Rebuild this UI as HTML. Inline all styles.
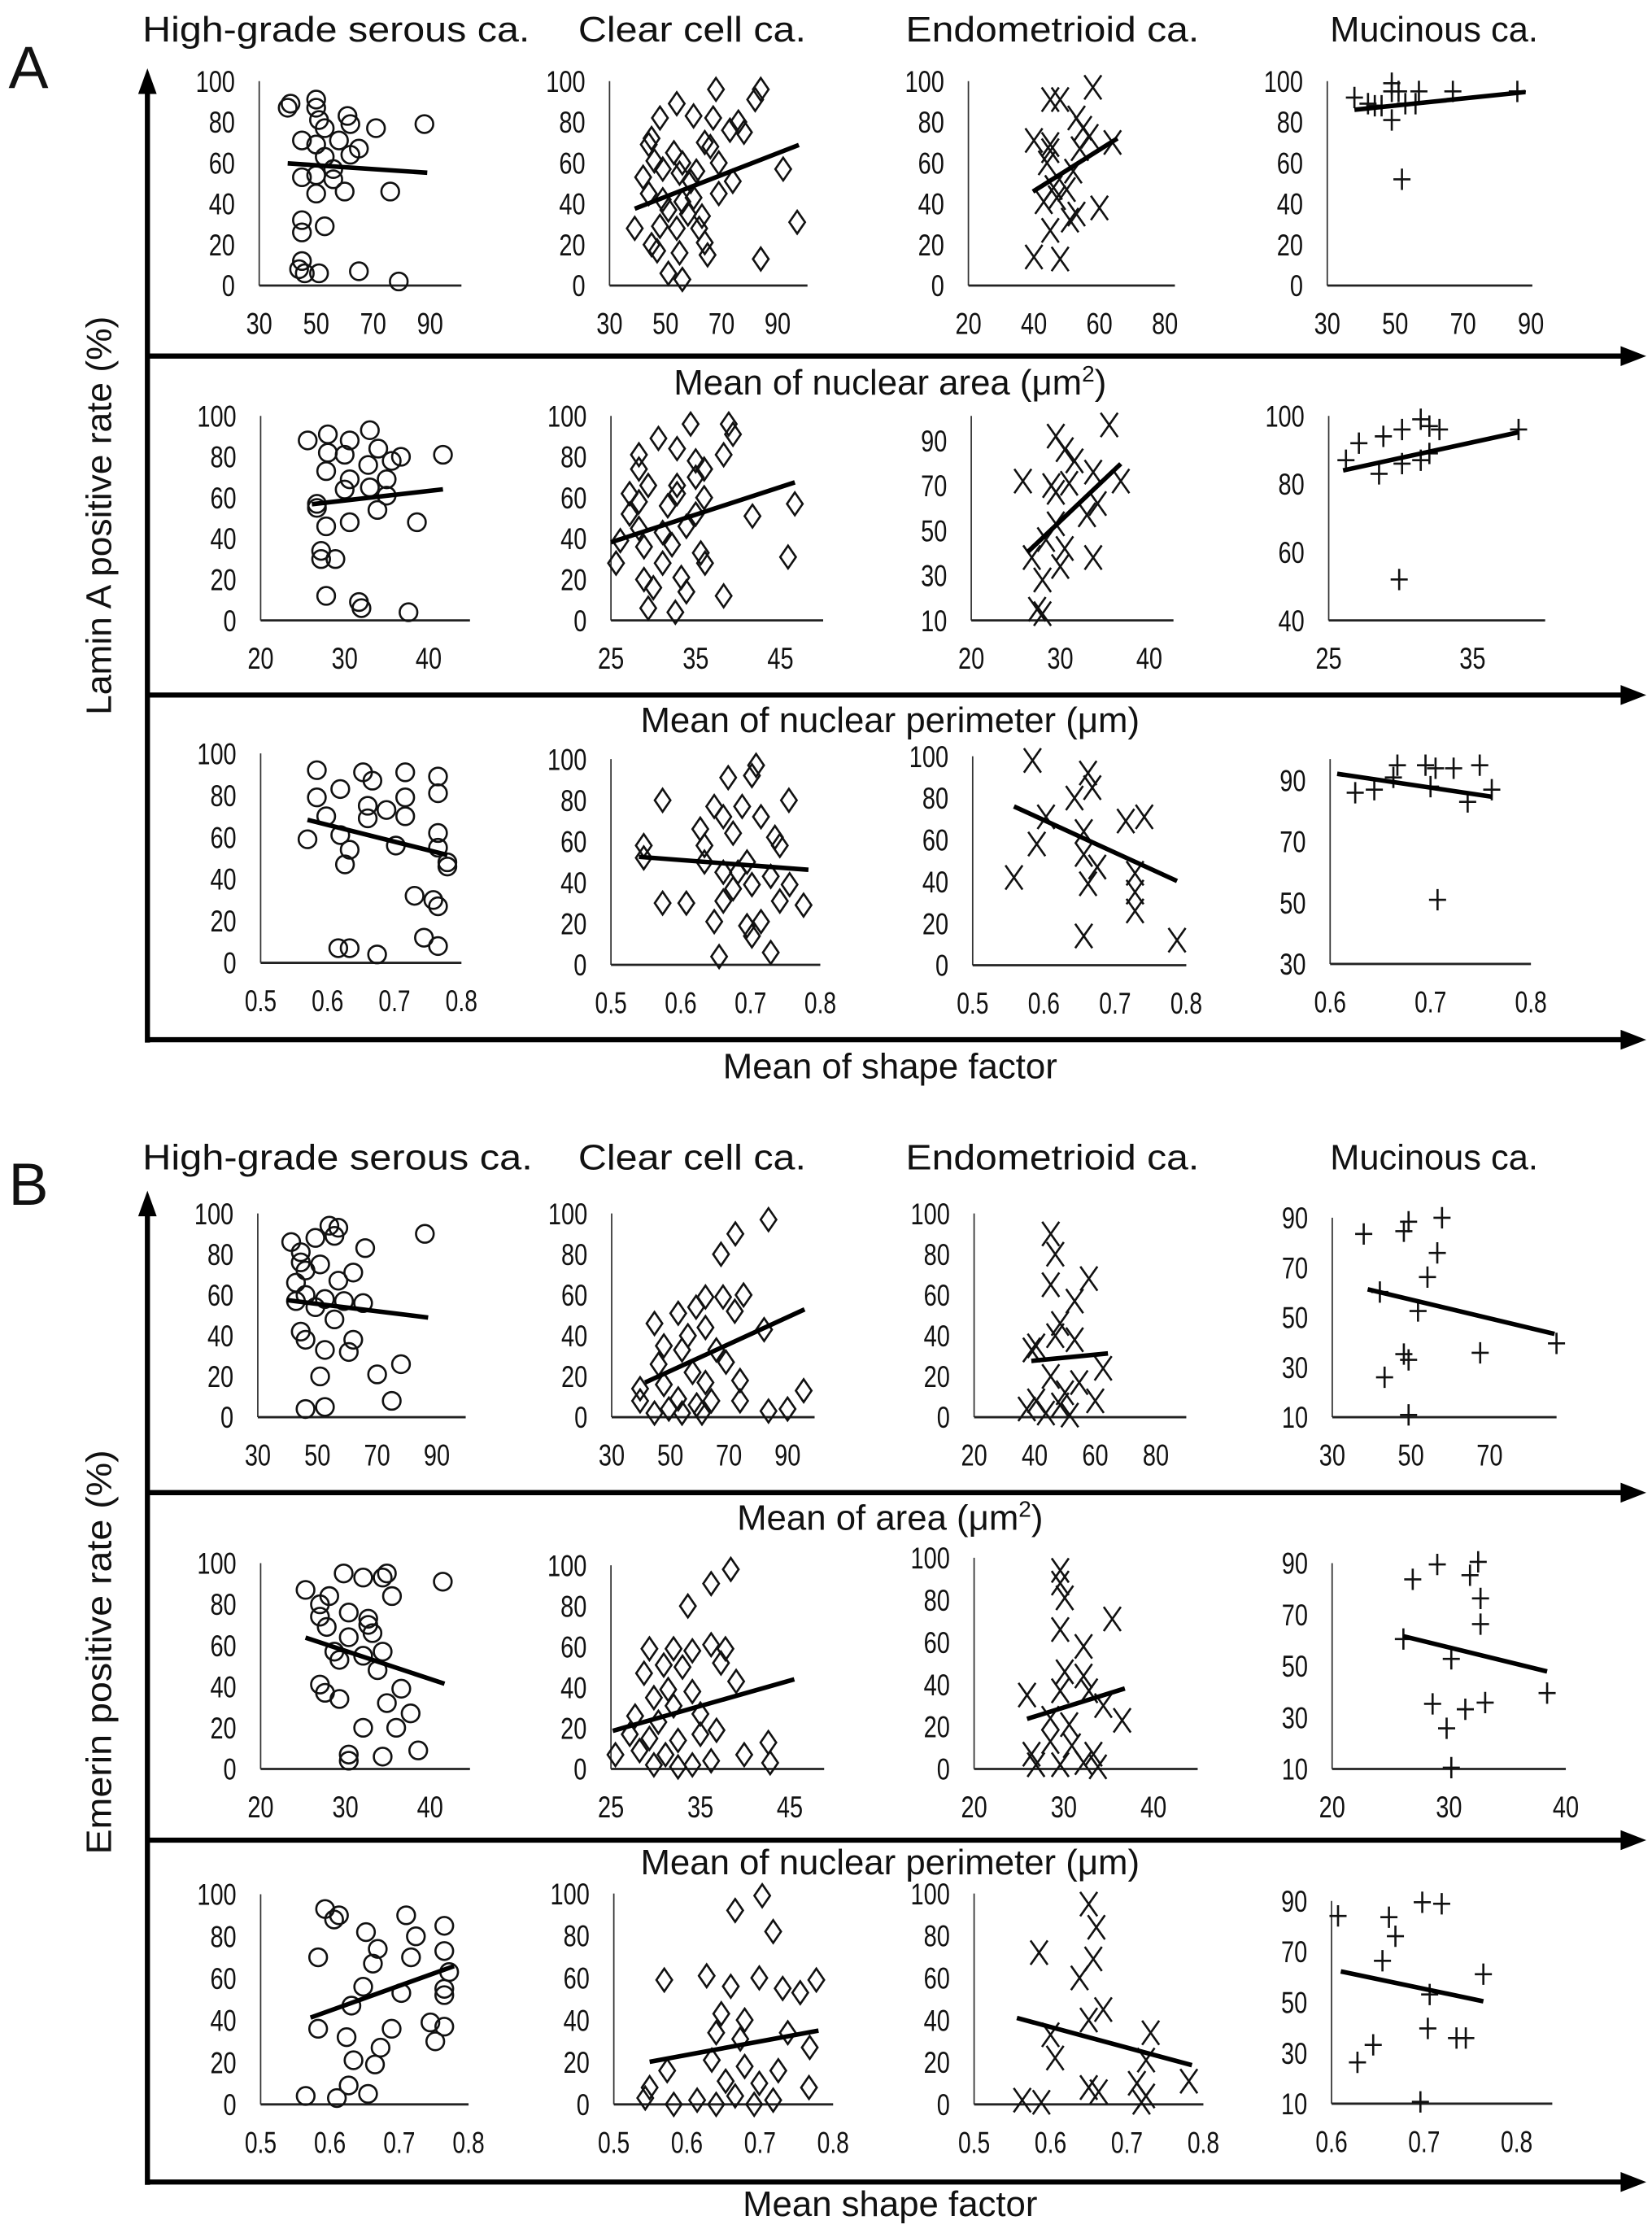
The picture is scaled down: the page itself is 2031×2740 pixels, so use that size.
<!DOCTYPE html>
<html><head><meta charset="utf-8">
<style>
html,body{margin:0;padding:0;background:#fff;}
svg{display:block;}
text{font-family:"Liberation Sans",sans-serif;fill:#111;}
.tk{font-family:"Liberation Sans Narrow","Liberation Sans",sans-serif;font-size:21px;}
.ttl{font-size:25px;}
.axl{font-size:25px;}
</style></head>
<body>
<svg id="fig" xmlns="http://www.w3.org/2000/svg" width="2031" height="2740" viewBox="0 0 1160 1565">
<rect x="0" y="0" width="1160" height="1565" fill="#fff"/>
<text x="6" y="62" font-size="42">A</text>
<text x="6" y="846" font-size="42">B</text>
<g>
<text class="ttl" x="100" y="29" textLength="272" lengthAdjust="spacingAndGlyphs">High-grade serous ca.</text>
<text class="ttl" x="406" y="29" textLength="160" lengthAdjust="spacingAndGlyphs">Clear cell ca.</text>
<text class="ttl" x="636" y="29" textLength="206" lengthAdjust="spacingAndGlyphs">Endometrioid ca.</text>
<text class="ttl" x="934" y="29" textLength="146" lengthAdjust="spacingAndGlyphs">Mucinous ca.</text>
</g>
<g>
<text class="ttl" x="100" y="821" textLength="274" lengthAdjust="spacingAndGlyphs">High-grade serous ca.</text>
<text class="ttl" x="406" y="821" textLength="160" lengthAdjust="spacingAndGlyphs">Clear cell ca.</text>
<text class="ttl" x="636" y="821" textLength="206" lengthAdjust="spacingAndGlyphs">Endometrioid ca.</text>
<text class="ttl" x="934" y="821" textLength="146" lengthAdjust="spacingAndGlyphs">Mucinous ca.</text>
</g>
<text class="axl" transform="translate(78,362) rotate(-90)" text-anchor="middle" textLength="280" lengthAdjust="spacingAndGlyphs">Lamin A positive rate (%)</text>
<text class="axl" transform="translate(78,1160) rotate(-90)" text-anchor="middle" textLength="284" lengthAdjust="spacingAndGlyphs">Emerin positive rate (%)</text>
<text class="axl" x="625" y="277" text-anchor="middle">Mean of nuclear area (μm<tspan font-size="16" dy="-9">2</tspan><tspan dy="9">)</tspan></text>
<text class="axl" x="625" y="514" text-anchor="middle">Mean of nuclear perimeter (μm)</text>
<text class="axl" x="625" y="757" text-anchor="middle">Mean of shape factor</text>
<text class="axl" x="625" y="1074" text-anchor="middle">Mean of area (μm<tspan font-size="16" dy="-9">2</tspan><tspan dy="9">)</tspan></text>
<text class="axl" x="625" y="1316" text-anchor="middle">Mean of nuclear perimeter (μm)</text>
<text class="axl" x="625" y="1556" text-anchor="middle">Mean shape factor</text>
<g id="arrows"></g>
<g id="panels"></g>
</svg>
<script>
// ---------- DATA ----------
const a1c1X=[40,41,50,50,51,53,61,62,71,88,45,50,58,65,53,62,56,45,50,56,50,60,76,45,53,45,45,46,51,65,79,44];
const a1c1Y=[87,89,91,87,81,77,83,79,77,79,71,69,71,67,63,64,57,53,54,52,45,46,46,32,29,26,12,6,6,7,2,8];
const a1c1T=[40,89,59.8,55.2];
const a1c2X=[68,84,82,54,60,67,48,76,73,78,45,44,64,66,53,46,56,69,49,55,61,92,42,74,59,44,69,49,56,60,51,58,63,39,48,54,62,45,47,55,65,84,97,51,56,64];
const a1c2Y=[96,96,91,89,83,82,82,80,76,75,72,69,70,68,65,61,60,60,57,55,56,57,53,51,51,45,45,42,41,43,37,35,34,28,29,28,28,20,17,16,15,13,31,6,3,21];
const a1c2T=[39,97.6,37.6,68.8];
const a1c3X=[58,45,48,53,55,57,64,40,45,45,54,44,52,46,50,43,47,60,53,51,45,40,48];
const a1c3Y=[97,91,91,82,77,73,70,71,69,66,67,60,56,48,47,41,43,38,35,32,27,14,13];
const a1c3T=[39.7,65.5,46,72];
const a1c4X=[38,42,44,49,49,51,53,57,56,67,86,49,52,46];
const a1c4Y=[92,89,88,99,95,95,89,95,89,95,95,81,52,88];
const a1c4T=[38,88.4,86,94.7];

const a2c1X=[25.6,28,30.6,33,28,30,34,36.7,27.8,32.8,35.6,30.6,35,30,33,35,26.7,33.9,27.8,30.6,38.6,27.2,28.9,27.2,27.8,31.7,32,37.6,41.7,26.7];
const a2c1Y=[88,91,88,93,82,81,84,80,73,76,78,69,69,64,65,61,55,54,46,48,48,34,30,30,12,9,6,4,81,57];
const a2c1T=[26.1,41.7,56.8,64.1];
const a2c2X=[34.4,38.9,39.4,30.6,32.8,28.3,38.3,35,28.3,36,35,29.4,32.8,27.2,32.8,36,28.3,27.2,31.7,35,41.7,46.7,28.3,31.1,33.9,26.1,28.9,32.2,35.6,36.1,25.6,31.1,28.9,30,33.3,33.9,38.3,45.9,29.4,32.6];
const a2c2Y=[96,96,91,89,84,81,81,78,74,74,70,66,66,62,62,60,58,52,56,52,51,57,45,43,46,39,36,37,33,28,28,28,20,16,21,14,12,31,6,4];
const a2c2T=[25,46.7,38.2,67.5];
const a2c3X=[35.5,29.5,30.5,31.6,33.7,25.8,36.8,29,31,29.5,34.2,33,29.5,28.4,30.5,26.8,33.7,30,28,27.4,28];
const a2c3Y=[97,92,86,81,76,72,72,70,71,67,62,57,53,46,42,38,38,34,28,15,13];
const a2c3T=[26.3,36.8,40.3,79.7];
const a2c4X=[26.2,27.1,28.8,30.1,31.4,32,32.7,38.2,28.5,30.1,31.4,32,29.9];
const a2c4Y=[87,92,94,96,99,97,96,96,83,86,87,89,52];
const a2c4T=[26,38.2,84,95.2];

const a3c1X=[.584,.584,.619,.653,.667,.716,.765,.765,.716,.598,.66,.66,.688,.716,.57,.619,.633,.702,.765,.765,.626,.779,.779,.73,.758,.765,.744,.765,.616,.633,.674];
const a3c1Y=[92,79,83,91,87,91,89,81,79,70,75,69,73,70,59,61,54,56,62,55,47,48,46,32,30,27,12,8,7,7,4];
const a3c1T=[.57,.779,68.3,51.5];
const a3c2X=[.708,.702,.668,.574,.755,.648,.688,.661,.715,.628,.675,.735,.547,.634,.742,.547,.634,.695,.682,.661,.729,.756,.702,.574,.608,.675,.661,.776,.742,.648,.695,.702,.729,.655,.715];
const a3c2Y=[97,92,91,80,80,77,77,72,72,66,64,62,58,58,58,52,50,50,45,45,43,39,39,30,30,37,31,29,31,21,19,14,6,4,21];
const a3c2T=[.54,.783,52.5,46.2];
const a3c3X=[.584,.662,.668,.643,.603,.715,.741,.656,.59,.656,.728,.558,.662,.728,.728,.656,.787,.675];
const a3c3Y=[98,92,85,80,71,69,71,64,58,53,44,42,39,35,26,14,12,47];
const a3c3T=[.558,.787,76,40.3];
const a3c4X=[.625,.644,.663,.667,.695,.705,.723,.749,.7,.737,.761,.707];
const a3c4Y=[86,87,91,95,95,94,94,95,88,83,87,51];
const a3c4T=[.607,.761,92.2,84.7];

const b1c1X=[41.2,44.4,49.3,54,57,55.7,66,86,44.4,50.9,46,62,57,42.8,46,52.5,58.9,65.3,42.8,49.3,55.7,44.4,46,62,52.5,60.5,50.9,70,78,74.9,46,52.5];
const b1c1Y=[86,81,88,94,93,89,83,90,76,75,72,71,67,66,60,58,57,56,57,54,48,42,38,38,33,32,20,21,26,8,4,5];
const b1c1T=[39.6,87.1,57.5,48.9];
const b1c2X=[83.5,72.2,67.3,44.6,52.7,58.8,62,68,75,72,56,62,47.8,54,69,46,39.7,47.8,62,73.8,52.7,59,39.7,49.5,60.8,73.8,83.5,90,95.5,82,54,44.6,64,57.6,65.7];
const b1c2Y=[97,90,80,46,51,54,59,59,60,52,40,44,35,33,27,26,14,16,17,18,9,6,8,4,2,8,3,4,13,43,2,2,8,22,33];
const b1c2T=[41.4,95.8,17,52.9];
const b1c3X=[45.3,46.8,45.3,57.9,53.2,40.5,48.4,53.2,46.8,39,62.6,45.3,54.7,40.5,48.4,60,43.7,51.6,50,37.4];
const b1c3Y=[90,80,65,68,57,35,46,38,40,33,24,20,17,8,6,8,2,1,12,4];
const b1c3T=[38.9,64.2,27.6,31.3];
const b1c4X=[38,48.2,49.4,57.9,56.7,54.2,42.1,51.8,48.2,49.4,43.3,67.6,87,49.4];
const b1c4Y=[83.5,84.6,88.4,90,75.9,66.2,60.2,52.6,35.3,33,26,35.8,39.6,10.9];
const b1c4T=[39,86.5,61.3,43.4];

const b2c1X=[25.3,28.1,29.8,32.1,34.4,34.9,35.5,41.5,27,27,30.4,32.7,27.8,32.7,30.4,33.2,28.7,34.4,29.3,32.1,33.8,27,27.6,29.3,36.6,34.9,37.7,36,32.1,30.4,30.4,34.4,38.6];
const b2c1Y=[87,84,95,93,93,95,84,91,80,74,76,73,69,70,64,66,57,57,53,55,48,41,37,34,39,32,27,20,20,7,4,6,9];
const b2c1T=[25.3,41.7,63.8,41.4];
const b2c2X=[38.4,36.2,33.6,29.3,32,34.1,36.2,37.8,30.9,33,37.3,28.7,39,31.4,34.1,29.8,32,27.7,35,30.3,36.8,27.1,29.3,32.5,28.2,25.5,31.1,39.9,42.6,42.8,36.2,34.1,29.8,32.5,35];
const b2c2Y=[98,91,80,59,59,58,61,59,51,50,52,47,43,39,38,35,31,26,27,23,19,17,15,14,9,7,7,7,13,3,4,2,2,1,17];
const b2c2T=[25.2,45.5,18.7,44];
const b2c3X=[29.6,29.6,30.1,35.4,29.6,32.2,30.1,32.2,25.9,29.6,32.8,34.4,36.5,28.5,30.6,28.5,30.9,26.4,33.3,26.9,29.6,32.2,33.8];
const b2c3Y=[94,88,81,71,66,58,46,44,35,37,37,30,23,24,21,13,11,7,7,2,2,3,1];
const b2c3T=[25.9,36.8,23.7,38.1];
const b2c4X=[26.9,29,31.8,32.5,32.7,32.7,26.1,30.2,28.6,31.4,33.1,29.8,38.4,30.2];
const b2c4Y=[83.7,89.5,85.3,90.5,76.3,66.3,60.5,52.8,35.3,33.2,35.8,25.8,39.5,10.5];
const b2c4T=[26.1,38.4,61.6,47.9];

const b3c1X=[.593,.613,.606,.652,.71,.724,.765,.583,.669,.662,.717,.765,.772,.648,.703,.765,.765,.631,.583,.689,.745,.765,.624,.752,.673,.634,.665,.627,.565,.61,.655];
const b3c1Y=[93,90,88,82,90,80,85,70,74,67,70,73,63,56,53,55,52,47,36,36,39,37,32,30,27,21,19,9,4,3,5];
const b3c1T=[.572,.779,41.3,65.8];
const b3c2X=[.703,.666,.718,.569,.627,.66,.699,.731,.777,.755,.647,.679,.64,.673,.738,.768,.573,.634,.679,.725,.653,.699,.549,.543,.582,.614,.666,.718,.767,.692,.64];
const b3c2Y=[99,92,82,59,61,56,60,55,59,53,43,40,34,31,34,27,16,21,18,16,11,10,8,3,0,2,4,2,8,0,0];
const b3c2T=[.549,.78,20.2,35];
const b3c3X=[.65,.66,.585,.656,.638,.669,.65,.6,.606,.731,.725,.781,.713,.65,.663,.563,.588,.719,.725];
const b3c3Y=[95,84,72,69,60,45,40,33,22,34,21,11,10,8,6,2,1,1,4];
const b3c3T=[.556,.785,41,18.6];
const b3c4X=[.607,.662,.698,.719,.669,.655,.764,.706,.704,.735,.745,.645,.628,.696];
const b3c4Y=[84.1,83.6,89.5,88.9,76.1,66.4,61.1,53.1,39.7,35.9,35.9,33.2,26.3,10.7];
const b3c4T=[.61,.764,62.2,50.4];

// tick label arrays
const ticksArea=[30,50,70,90];
const ticksAreaEndo=[20,40,60,80];
const ticksAreaMucB=[30,50,70];
const ticksPerim=[20,30,40];
const ticksPerimCC=[25,35,45];
const ticksPerimMucA=[25,35];
const ticksShape=[0.5,0.6,0.7,0.8];
const ticksShapeMuc=[0.6,0.7,0.8];
const yTicks100=[0,20,40,60,80,100];
const yTicks10to90=[10,30,50,70,90];
const yTicks40to100=[40,60,80,100];
const yTicks30to90=[30,50,70,90];

// ---------- LAYOUT ----------
const panels=[
 {n:'a-hgsc-area',m:'o',X:a1c1X,Y:a1c1Y,T:a1c1T,xt:ticksArea,yt:yTicks100,L:182,E:302,R:324,yb:200.5,ytop:57},
 {n:'a-cc-area',m:'d',X:a1c2X,Y:a1c2Y,T:a1c2T,xt:ticksArea,yt:yTicks100,L:428,E:546,R:567,yb:200.5,ytop:57},
 {n:'a-endo-area',m:'x',X:a1c3X,Y:a1c3Y,T:a1c3T,xt:ticksAreaEndo,yt:yTicks100,L:680,E:818,R:825,yb:200.5,ytop:57},
 {n:'a-muc-area',m:'p',X:a1c4X,Y:a1c4Y,T:a1c4T,xt:ticksArea,yt:yTicks100,L:932,E:1075,R:1076,yb:200.5,ytop:57},
 {n:'a-hgsc-perimeter',m:'o',X:a2c1X,Y:a2c1Y,T:a2c1T,xt:ticksPerim,yt:yTicks100,L:183,E:301,R:330,yb:435.6,ytop:292},
 {n:'a-cc-perimeter',m:'d',X:a2c2X,Y:a2c2Y,T:a2c2T,xt:ticksPerimCC,yt:yTicks100,L:429,E:548,R:578,yb:435.6,ytop:292},
 {n:'a-endo-perimeter',m:'x',X:a2c3X,Y:a2c3Y,T:a2c3T,xt:ticksPerim,yt:yTicks10to90,L:682,E:807,R:824,yb:435.6,ytop:309.4,atop:292},
 {n:'a-muc-perimeter',m:'p',X:a2c4X,Y:a2c4Y,T:a2c4T,xt:ticksPerimMucA,yt:yTicks40to100,L:933,E:1034,R:1085,yb:435.6,ytop:292},
 {n:'a-hgsc-shape',m:'o',X:a3c1X,Y:a3c1Y,T:a3c1T,xt:ticksShape,yt:yTicks100,L:183,E:324,R:324,yb:676,ytop:529},
 {n:'a-cc-shape',m:'d',X:a3c2X,Y:a3c2Y,T:a3c2T,xt:ticksShape,yt:yTicks100,L:429,E:576,R:576,yb:677.4,ytop:533},
 {n:'a-endo-shape',m:'x',X:a3c3X,Y:a3c3Y,T:a3c3T,xt:ticksShape,yt:yTicks100,L:683,E:833,R:833,yb:677.7,ytop:531},
 {n:'a-muc-shape',m:'p',X:a3c4X,Y:a3c4Y,T:a3c4T,xt:ticksShapeMuc,yt:yTicks30to90,L:934,E:1075,R:1075,yb:676.8,ytop:548,atop:533},
 {n:'b-hgsc-area',m:'o',X:b1c1X,Y:b1c1Y,T:b1c1T,xt:ticksArea,yt:yTicks100,L:181,E:306.7,R:327,yb:995,ytop:852},
 {n:'b-cc-area',m:'d',X:b1c2X,Y:b1c2Y,T:b1c2T,xt:ticksArea,yt:yTicks100,L:429.5,E:553,R:572,yb:995,ytop:852},
 {n:'b-endo-area',m:'x',X:b1c3X,Y:b1c3Y,T:b1c3T,xt:ticksAreaEndo,yt:yTicks100,L:684,E:811.6,R:833,yb:995,ytop:852},
 {n:'b-muc-area',m:'p',X:b1c4X,Y:b1c4Y,T:b1c4T,xt:ticksAreaMucB,yt:yTicks10to90,L:935.5,E:1046,R:1093,yb:995,ytop:855},
 {n:'b-hgsc-perimeter',m:'o',X:b2c1X,Y:b2c1Y,T:b2c1T,xt:ticksPerim,yt:yTicks100,L:183,E:302,R:330,yb:1242,ytop:1097.5},
 {n:'b-cc-perimeter',m:'d',X:b2c2X,Y:b2c2Y,T:b2c2T,xt:ticksPerimCC,yt:yTicks100,L:429,E:554.6,R:578.7,yb:1242,ytop:1099},
 {n:'b-endo-perimeter',m:'x',X:b2c3X,Y:b2c3Y,T:b2c3T,xt:ticksPerim,yt:yTicks100,L:684,E:810,R:841,yb:1242,ytop:1093.7},
 {n:'b-muc-perimeter',m:'p',X:b2c4X,Y:b2c4Y,T:b2c4T,xt:ticksPerim,yt:yTicks10to90,L:935.4,E:1099.5,R:1099.5,yb:1242,ytop:1097.5},
 {n:'b-hgsc-shape',m:'o',X:b3c1X,Y:b3c1Y,T:b3c1T,xt:ticksShape,yt:yTicks100,L:183,E:329,R:329,yb:1477.5,ytop:1330},
 {n:'b-cc-shape',m:'d',X:b3c2X,Y:b3c2Y,T:b3c2T,xt:ticksShape,yt:yTicks100,L:431,E:585,R:585,yb:1477.5,ytop:1329.5},
 {n:'b-endo-shape',m:'x',X:b3c3X,Y:b3c3Y,T:b3c3T,xt:ticksShape,yt:yTicks100,L:684,E:845,R:845,yb:1477.5,ytop:1329.5},
 {n:'b-muc-shape',m:'p',X:b3c4X,Y:b3c4Y,T:b3c4T,xt:ticksShapeMuc,yt:yTicks10to90,L:935,E:1065,R:1090,yb:1477,ytop:1334.7}
];

const NS='http://www.w3.org/2000/svg';
function mk(tag,parent){const e=document.createElementNS(NS,tag);parent.appendChild(e);return e;}
function fmt(v){return (Math.abs(v)<1&&v!==0)?v.toFixed(1):String(v);}
function tlen(s){let w=0;for(const ch of s){w+=(ch==='.')?4:9.2;}return w;}

// frame arrows
const ar=document.getElementById('arrows');
function arrowLine(x1,y1,x2,y2,name){
  const l=mk('line',ar);
  l.setAttribute('x1',x1);l.setAttribute('y1',y1);l.setAttribute('x2',x2);l.setAttribute('y2',y2);
  l.setAttribute('stroke','#000');l.setAttribute('stroke-width','3.6');
  
  
}
function head(pts,name){
  const p=mk('polygon',ar);p.setAttribute('points',pts);p.setAttribute('fill','#000');
  
  
}
arrowLine(103.5,60,103.5,732,'y-arrow-a');head('103.5,48 97,66 110,66','y-arrowhead-a');
arrowLine(103.5,848,103.5,1534,'y-arrow-b');head('103.5,836 97,854 110,854','y-arrowhead-b');
[250,488,730,1048,1292,1532].forEach(function(y){
  arrowLine(102,y,1142,y,'x-arrow');
  head('1156,'+y+' 1138,'+(y-7)+' 1138,'+(y+7),'x-arrowhead');
});

const root=document.getElementById('panels');
panels.forEach(function(p){
  const g=mk('g',root);
  
  
  const x0=p.xt[0],x1=p.xt[p.xt.length-1];
  const y0=p.yt[0],y1=p.yt[p.yt.length-1];
  const sx=function(v){return p.L+(v-x0)*(p.E-p.L)/(x1-x0);};
  const sy=function(v){return p.yb-(v-y0)*(p.yb-p.ytop)/(y1-y0);};
  const ya=mk('line',g);
  ya.setAttribute('x1',p.L);ya.setAttribute('x2',p.L);ya.setAttribute('y1',p.atop||p.ytop);ya.setAttribute('y2',p.yb);
  ya.setAttribute('stroke','#333');ya.setAttribute('stroke-width','1');
  
  
  const xa=mk('line',g);
  xa.setAttribute('x1',p.L);xa.setAttribute('x2',p.R);xa.setAttribute('y1',p.yb);xa.setAttribute('y2',p.yb);
  xa.setAttribute('stroke','#222');xa.setAttribute('stroke-width','1.6');
  
  
  p.yt.forEach(function(v){
    const t=mk('text',g);t.setAttribute('class','tk');t.setAttribute('x',p.L-17);t.setAttribute('y',sy(v)+7.5);
    t.setAttribute('text-anchor','end');t.textContent=fmt(v);
    t.setAttribute('textLength',tlen(fmt(v)));t.setAttribute('lengthAdjust','spacingAndGlyphs');
    
    
  });
  p.xt.forEach(function(v){
    const t=mk('text',g);t.setAttribute('class','tk');t.setAttribute('x',sx(v));t.setAttribute('y',p.yb+34);
    t.setAttribute('text-anchor','middle');t.textContent=fmt(v);
    t.setAttribute('textLength',tlen(fmt(v)));t.setAttribute('lengthAdjust','spacingAndGlyphs');
    
    
  });
  for(let i=0;i<p.X.length;i++){
    const cx=sx(p.X[i]),cy=sy(p.Y[i]);
    let e;
    if(p.m==='o'){e=mk('circle',g);e.setAttribute('cx',cx);e.setAttribute('cy',cy);e.setAttribute('r','6.2');}
    else{
      e=mk('path',g);let d;
      if(p.m==='d')d='M'+cx+','+(cy-8)+'L'+(cx+5.5)+','+cy+'L'+cx+','+(cy+8)+'L'+(cx-5.5)+','+cy+'Z';
      else if(p.m==='x')d='M'+(cx-6)+','+(cy-8.5)+'L'+(cx+6)+','+(cy+8.5)+'M'+(cx+6)+','+(cy-8.5)+'L'+(cx-6)+','+(cy+8.5);
      else d='M'+(cx-6)+','+cy+'L'+(cx+6)+','+cy+'M'+cx+','+(cy-7.5)+'L'+cx+','+(cy+7.5);
      e.setAttribute('d',d);
    }
    e.setAttribute('fill','none');e.setAttribute('stroke','#111');e.setAttribute('stroke-width','1.5');
    
    
  }
  const tl=mk('line',g);
  tl.setAttribute('x1',sx(p.T[0]));tl.setAttribute('x2',sx(p.T[1]));
  tl.setAttribute('y1',sy(p.T[2]));tl.setAttribute('y2',sy(p.T[3]));
  tl.setAttribute('stroke','#000');tl.setAttribute('stroke-width','3.2');
  
  
});
</script>
</body></html>
